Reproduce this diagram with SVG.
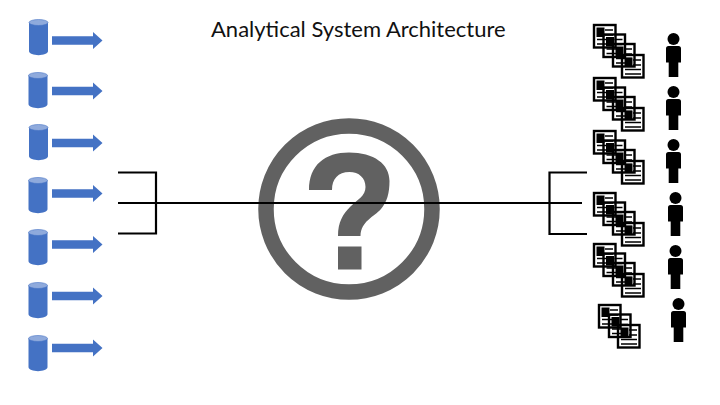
<svg xmlns="http://www.w3.org/2000/svg" width="720" height="405" viewBox="0 0 720 405">
<style>
.title{font-family:"Lato","Liberation Sans",sans-serif;font-size:22px;fill:#111}
.conn{fill:none;stroke:#000;stroke-width:2.2}
.docbox{fill:none;stroke:#000;stroke-width:2.4}
.docline{fill:none;stroke:#000;stroke-width:1.6}
</style>
<defs>
<g id="cyl">
<path d="M0,3.500 V32 C0,37.500 19,37.500 19,32 V3.500 Z" fill="#4472c4"/>
<ellipse cx="9.500" cy="3.500" rx="9.500" ry="3" fill="#8faadc" stroke="#4472c4" stroke-width="0.6"/>
</g>
<polygon id="arr" points="52,-4.300 93,-4.300 93,-8.500 102.500,0 93,8.500 93,4.300 52,4.300" fill="#4472c4"/>
<g id="doc">
<rect class="docbox" x="1" y="1" width="21.500" height="22.500"/>
<rect x="3.500" y="3.500" width="8" height="9.500" fill="#000"/>
<path class="docline" d="M12,6 H20 M12,11 H20 M4,15.500 H20 M4,20 H20"/>
</g>
<g id="stack4">
<use href="#doc" x="0" y="0"/>
<use href="#doc" x="9.500" y="9.500"/>
<use href="#doc" x="19" y="19"/>
<use href="#doc" x="28" y="30"/>
</g>
<g id="stack3">
<use href="#doc" x="0" y="0"/>
<use href="#doc" x="10" y="9.500"/>
<use href="#doc" x="19" y="20"/>
</g>
<g id="person">
<circle cx="7.500" cy="6" r="6" fill="#000"/>
<path d="M2.500,13 H12.500 Q15,13 15,15.500 V29.500 H12.300 V44 H2.700 V29.500 H0 V15.500 Q0,13 2.500,13 Z" fill="#000"/>
</g>
</defs>
<g id="title"><text class="title" x="211" y="37">Analytical System Architecture</text></g>
<g id="question">
<circle cx="349" cy="209" r="83" fill="none" stroke="#616161" stroke-width="15.500"/>
<path d="M309,190 C309,165 325,152.500 349,152.500 C374,152.500 389.500,164 389.500,181 C389.500,193 387,202 381,209 C374,217 361,221 360.500,236 L338,236 C338,222 343,214 350,207 C358,199 365.500,196 365.500,187 C365.500,178 359,172 349.500,172 C338,172 332,179 332,190 Z" fill="#616161"/>
<rect x="338" y="246.500" width="23.500" height="23" fill="#616161"/>
</g>
<g id="sources">
<g id="source1"><use href="#cyl" x="29" y="19"/><use href="#arr" y="40.500"/></g>
<g id="source2"><use href="#cyl" x="28.500" y="72"/><use href="#arr" y="91"/></g>
<g id="source3"><use href="#cyl" x="29" y="124"/><use href="#arr" y="143"/></g>
<g id="source4"><use href="#cyl" x="28.500" y="177"/><use href="#arr" y="193.500"/></g>
<g id="source5"><use href="#cyl" x="28.500" y="229"/><use href="#arr" y="244.500"/></g>
<g id="source6"><use href="#cyl" x="28.500" y="282"/><use href="#arr" y="296"/></g>
<g id="source7"><use href="#cyl" x="28.500" y="335"/><use href="#arr" y="348"/></g>
</g>
<g id="connectors">
<path class="conn" d="M118,172.500 H156 V233.500 H118"/>
<path class="conn" d="M118,203 H582"/>
<path class="conn" d="M587,172.500 H549.500 V234 H587"/>
</g>
<g id="reports">
<use id="report1" href="#stack4" x="593" y="24"/>
<use id="report2" href="#stack4" x="593" y="77"/>
<use id="report3" href="#stack4" x="593" y="130"/>
<use id="report4" href="#stack4" x="593" y="192"/>
<use id="report5" href="#stack4" x="593" y="243"/>
<use id="report6" href="#stack3" x="598" y="304"/>
</g>
<g id="people">
<use id="person1" href="#person" x="666" y="33"/>
<use id="person2" href="#person" x="666" y="86"/>
<use id="person3" href="#person" x="666" y="139"/>
<use id="person4" href="#person" x="668" y="192"/>
<use id="person5" href="#person" x="668" y="245"/>
<use id="person6" href="#person" x="671" y="298"/>
</g>
</svg>
